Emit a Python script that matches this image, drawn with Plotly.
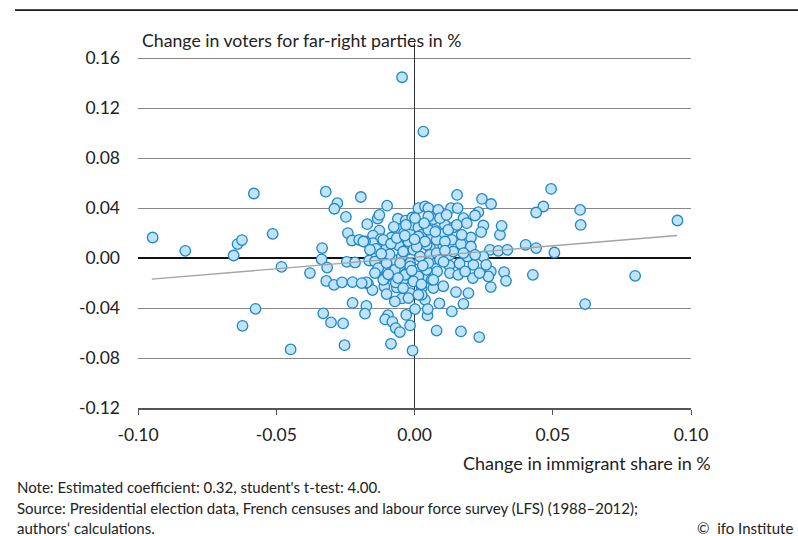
import plotly.graph_objects as go

# Change in immigrant share (x) and change in far-right vote share (y), one entry per area
immigrant_change = [
    -0.0947, -0.0829, -0.0654, -0.0640, -0.0624, -0.0581, -0.0513, -0.0481, -0.0575, -0.0622,
    -0.0448, -0.0378, -0.0334, -0.0336, -0.0316, -0.0321, -0.0279, -0.0290, -0.0194, -0.0248,
    -0.0099, -0.0241, -0.0226, -0.0200, -0.0319, -0.0291, -0.0262, -0.0224, -0.0224, -0.0174,
    -0.0179, -0.0330, -0.0302, -0.0258, -0.0253, -0.0085, -0.0096, -0.0106, -0.0080, -0.0068,
    -0.0053, -0.0030, -0.0168, -0.0152, -0.0109, -0.0101, -0.0064, -0.0045, -0.0071, -0.0016,
    0.0002, -0.0140, -0.0109, -0.0173, -0.0016, -0.0007, -0.0245, -0.0215, -0.0068, -0.0164,
    -0.0038, -0.0068,
    -0.0171, -0.0133, -0.0127, -0.0060, -0.0032, -0.0008, 0.0014, -0.0127, -0.0150, -0.0122,
    -0.0083, -0.0154, -0.0102, -0.0058, -0.0052, -0.0038, -0.0010, -0.0007, -0.0031, 0.0014,
    -0.0020, -0.0113, -0.0085, -0.0151, 0.0002, -0.0139, -0.0179,
    0.0154, 0.0244, 0.0277, 0.0038, 0.0050, 0.0086, 0.0132, 0.0156, 0.0231, 0.0219,
    0.0177, 0.0189, 0.0038, 0.0068, 0.0110, 0.0140, 0.0249, 0.0309, 0.0315, 0.0241,
    0.0204, 0.0072, 0.0104, 0.0026, 0.0135, 0.0168, 0.0204, 0.0273, 0.0303, 0.0104,
    0.0056, 0.0336, 0.0402, 0.0440, 0.0506, 0.0494, 0.0466, 0.0440, 0.0599, 0.0601,
    0.0951, 0.0428, 0.0798, 0.0617, 0.0324, 0.0331, 0.0276, 0.0276, 0.0267, 0.0249,
    0.0213, 0.0211, 0.0235, 0.0195, 0.0150, 0.0177, 0.0135, 0.0104, 0.0068, 0.0090,
    0.0047, 0.0080, 0.0168, 0.0234, 0.0026, 0.0126, 0.0163, 0.0082, 0.0015, 0.0038,
    0.0068, 0.0191, 0.0259, 0.0038, 0.0048,
    -0.0185, -0.0161, -0.0113, -0.0077, -0.0046, -0.0028, -0.0143, -0.0131, -0.0101, -0.0064,
    -0.0041, -0.0022, -0.0113,
    -0.0022, 0.0014, 0.0044, 0.0062, -0.0041, -0.0004, 0.0020, 0.0056, 0.0092, 0.0128,
    -0.0016, -0.0028, 0.0014, 0.0044, -0.0004, -0.0041, 0.0062, 0.0026, -0.0022,
    -0.0064, 0.0002, 0.0050, 0.0092, 0.0116, 0.0050, 0.0122, 0.0153, 0.0171, 0.0080,
    0.0110, 0.0038, 0.0219, 0.0177, 0.0140, 0.0080,
    0.0050, 0.0092, 0.0068, 0.0128, 0.0158, 0.0183, 0.0014,
    -0.0143, -0.0071, -0.0034, -0.0016, -0.0052, -0.0101, -0.0191,
    -0.0045, 0.0032,
    -0.0090, -0.0035, 0.0008, 0.0030, -0.0120, -0.0075, 0.0075, 0.0105, -0.0010, 0.0025,
    -0.0060, 0.0000, 0.0035, -0.0095, 0.0110,
]
far_right_change = [
    0.0165, 0.0058, 0.0021, 0.0112, 0.0144, 0.0517, 0.0194, -0.0070, -0.0406, -0.0542,
    -0.0731, -0.0120, 0.0080, -0.0010, -0.0076, 0.0532, 0.0440, 0.0395, 0.0489, 0.0330,
    0.0420, 0.0200, 0.0141, 0.0146, -0.0183, -0.0214, -0.0194, -0.0192, -0.0359, -0.0383,
    -0.0445, -0.0442, -0.0515, -0.0523, -0.0697, -0.0686, -0.0457, -0.0491, -0.0510, -0.0560,
    -0.0592, -0.0455, -0.0206, -0.0256, -0.0227, -0.0288, -0.0235, -0.0323, -0.0347, -0.0280,
    -0.0408, -0.0115, -0.0094, -0.0195, -0.0539, -0.0740, -0.0030, -0.0035, -0.0040, -0.0019,
    -0.0168, -0.0195,
    0.0272, 0.0317, 0.0346, 0.0315, 0.0300, 0.0325, 0.0400, 0.0220, 0.0180, 0.0152,
    0.0165, 0.0085, 0.0077, 0.0103, 0.0232, 0.0200, 0.0213, 0.0266, 0.0266, 0.0245,
    0.0120, 0.0146, 0.0115, 0.0120, 0.0106, 0.0074, 0.0133,
    0.0506, 0.0474, 0.0433, 0.0413, 0.0400, 0.0386, 0.0400, 0.0400, 0.0368, 0.0341,
    0.0320, 0.0280, 0.0272, 0.0312, 0.0266, 0.0245, 0.0261, 0.0186, 0.0258, 0.0208,
    0.0165, 0.0226, 0.0193, 0.0186, 0.0146, 0.0112, 0.0093, 0.0066, 0.0058, 0.0098,
    0.0085, 0.0066, 0.0106, 0.0080, 0.0045, 0.0554, 0.0413, 0.0365, 0.0386, 0.0266,
    0.0301, -0.0134, -0.0142, -0.0368, -0.0112, -0.0182, -0.0232, -0.0107, -0.0147, 0.0013,
    -0.0054, -0.0160, -0.0120, -0.0280, -0.0272, -0.0366, -0.0427, -0.0225, -0.0240, -0.0363,
    -0.0459, -0.0580, -0.0587, -0.0632, -0.0240, -0.0060, -0.0043, -0.0107, -0.0088, -0.0155,
    -0.0008, 0.0013, -0.0054, -0.0334, -0.0408,
    0.0133, 0.0066, 0.0013, -0.0014, 0.0013, 0.0066, -0.0027, -0.0080, -0.0147, -0.0120,
    -0.0080, -0.0134, -0.0174,
    0.0133, 0.0173, 0.0106, 0.0173, 0.0053, 0.0066, 0.0013, 0.0026, 0.0000, 0.0026,
    -0.0040, -0.0120, -0.0147, -0.0094, -0.0187, -0.0240, -0.0174, -0.0294, -0.0320,
    0.0160, 0.0320, 0.0333, 0.0320, 0.0346, 0.0226, 0.0226, 0.0266, 0.0186, 0.0146,
    0.0133, 0.0133, 0.0026, 0.0040, 0.0053, 0.0040,
    -0.0040, -0.0014, -0.0174, -0.0120, -0.0134, -0.0107, -0.0294,
    -0.0120, -0.0094, -0.0134, -0.0067, -0.0040, -0.0040, -0.0200,
    0.1448, 0.1013,
    0.0030, 0.0180, 0.0090, -0.0060, 0.0035, 0.0250, 0.0210, -0.0030, -0.0100, -0.0210,
    -0.0160, 0.0150, 0.0280, -0.0130, 0.0060,
]

# Fitted regression line (end points)
fit_x = [-0.095, 0.095]
fit_y = [-0.0168, 0.0181]

x_ticks = [-0.10, -0.05, 0.00, 0.05, 0.10]
x_tick_labels = ["-0.10", "-0.05", "0.00", "0.05", "0.10"]
y_ticks = [-0.12, -0.08, -0.04, 0.00, 0.04, 0.08, 0.12, 0.16]
y_tick_labels = ["-0.12", "-0.08", "-0.04", "0.00", "0.04", "0.08", "0.12", "0.16"]

FONT = "Lato"
TEXT = "#222222"

fig = go.Figure()

fig.add_trace(go.Scatter(
    x=immigrant_change, y=far_right_change, mode="markers",
    marker=dict(size=10.5, color="#bfe3f8", line=dict(color="#1f86c8", width=1.3)),
    hoverinfo="skip", showlegend=False,
))

fig.add_trace(go.Scatter(
    x=fit_x, y=fit_y, mode="lines",
    line=dict(color="#a3a3a3", width=1.4),
    hoverinfo="skip", showlegend=False,
))

fig.update_layout(
    width=798, height=536,
    margin=dict(l=138, r=107, t=43, b=128),
    paper_bgcolor="white", plot_bgcolor="white",
    font=dict(family=FONT, color=TEXT, size=17),
    xaxis=dict(
        range=[-0.10, 0.10], tickvals=x_ticks, ticktext=x_tick_labels,
        showgrid=False, zeroline=True, zerolinecolor="#333333", zerolinewidth=1.3,
        showline=True, linecolor="#555555", linewidth=1.5,
        ticks="outside", ticklen=5, tickcolor="#555555", tickwidth=1.2,
        ticklabelstandoff=5,
        tickfont=dict(size=17.5, family=FONT, color=TEXT),
    ),
    yaxis=dict(
        range=[-0.12, 0.1722], tickvals=y_ticks, ticktext=y_tick_labels,
        showgrid=True, gridcolor="#888888", gridwidth=1.3,
        zeroline=True, zerolinecolor="#111111", zerolinewidth=2,
        showline=False, ticks="", ticklabelstandoff=17,
        tickfont=dict(size=17.5, family=FONT, color=TEXT),
    ),
    shapes=[
        dict(type="line", xref="paper", yref="paper",
             x0=-0.2224, x1=1.2, y0=1.0903, y1=1.0903,
             line=dict(color="#1a1a1a", width=1.8)),
    ],
    annotations=[
        dict(text="Change in voters for far-right parties in %", xref="paper", yref="paper",
             x=0.0036, y=1.008, xanchor="left", yanchor="middle", showarrow=False,
             font=dict(size=17.7, family=FONT, color=TEXT)),
        dict(text="Change in immigrant share in %", xref="paper", yref="paper",
             x=1.0398, y=-0.1497, xanchor="right", yanchor="middle", showarrow=False,
             font=dict(size=18, family=FONT, color=TEXT)),
        dict(text="Note: Estimated coefficient: 0.32, student's t-test: 4.00.", xref="paper", yref="paper",
             x=-0.2224, y=-0.2157, xanchor="left", yanchor="middle", showarrow=False,
             font=dict(size=15, family=FONT, color=TEXT)),
        dict(text="Source: Presidential election data, French censuses and labour force survey (LFS) (1988–2012);",
             xref="paper", yref="paper",
             x=-0.2224, y=-0.2732, xanchor="left", yanchor="middle", showarrow=False,
             font=dict(size=15, family=FONT, color=TEXT)),
        dict(text="authors‘ calculations.", xref="paper", yref="paper",
             x=-0.2224, y=-0.3279, xanchor="left", yanchor="middle", showarrow=False,
             font=dict(size=15, family=FONT, color=TEXT)),
        dict(text="©  ifo Institute", xref="paper", yref="paper",
             x=1.1880, y=-0.3279, xanchor="right", yanchor="middle", showarrow=False,
             font=dict(size=15, family=FONT, color=TEXT)),
    ],
)

fig.write_html("out.html")
